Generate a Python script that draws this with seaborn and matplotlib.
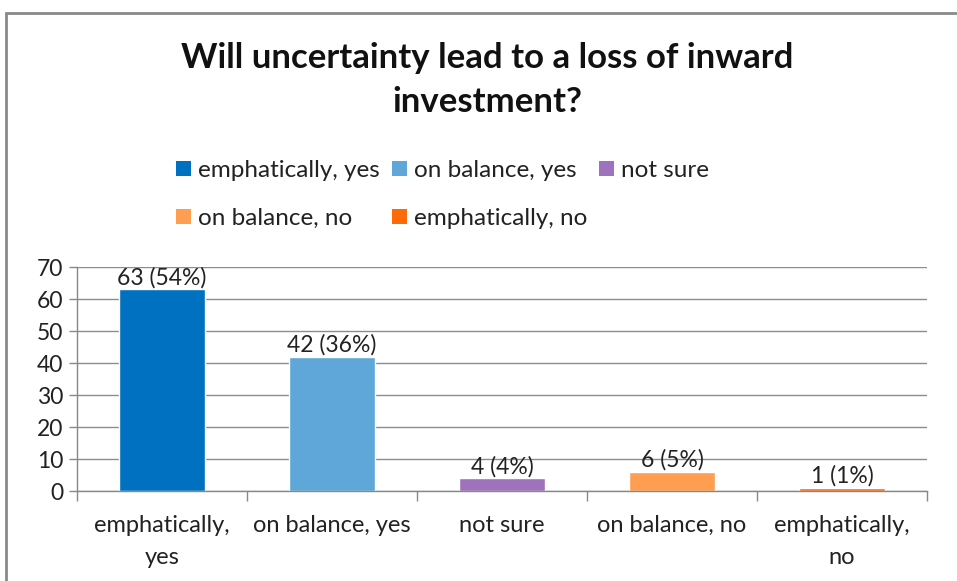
import matplotlib
matplotlib.use("Agg")
import matplotlib.pyplot as plt
import seaborn as sns
import pandas as pd
from matplotlib.patches import Patch, Rectangle

categories = ["emphatically, yes", "on balance, yes", "not sure", "on balance, no", "emphatically, no"]
tick_labels = ["emphatically,\nyes", "on balance, yes", "not sure", "on balance, no", "emphatically,\nno"]
values = [63, 42, 4, 6, 1]
percents = [54, 36, 4, 5, 1]
colors = ["#0070C0", "#5EA7D8", "#9E72BD", "#FF9E50", "#FF6A08"]

sns.set_theme(style="white")
plt.rcParams["font.family"] = ["Lato", "DejaVu Sans"]

df = pd.DataFrame({"cat": categories, "val": values})

fig = plt.figure(figsize=(9.57, 5.81), dpi=100)
ax = fig.add_axes([77/957, 1-491/581, (927-77)/957, (491-267)/581])

sns.barplot(data=df, x="cat", y="val", hue="cat", palette=colors, width=0.51,
            dodge=False, legend=False, ax=ax, order=categories, hue_order=categories,
            saturation=1)

ax.set_xlim(-0.5, 4.5)
ax.set_ylim(0, 70)
ax.set_yticks(range(0, 71, 10))
ax.tick_params(axis="y", labelsize=16.5, length=6, width=1, color="#888888", direction="out",
               pad=4, left=True, labelcolor="#222222")
ax.set_xticks(range(5))
ax.set_xticklabels(tick_labels, fontsize=17, linespacing=1.65, color="#222222")
ax.set_xticks([i - 0.5 for i in range(6)], minor=True)
ax.tick_params(axis="x", which="major", length=0, pad=17)
ax.tick_params(axis="x", which="minor", length=7, width=1, color="#888888", direction="out", bottom=True)
ax.set_xlabel("")
ax.set_ylabel("")
ax.yaxis.grid(True, color="#8C8C8C", linewidth=1)
ax.set_axisbelow(True)
for s in ["top", "right"]:
    ax.spines[s].set_visible(False)
for s in ["left", "bottom"]:
    ax.spines[s].set_color("#888888")
    ax.spines[s].set_linewidth(1)

for i, (v, p) in enumerate(zip(values, percents)):
    ax.text(i, v + 0.3, f"{v} ({p}%)", ha="center", va="bottom", fontsize=16.5, color="#222222")

fig.text(487/957, 1-80/581, "Will uncertainty lead to a loss of inward\ninvestment?",
         ha="center", va="center", fontsize=25, fontweight="bold", linespacing=1.45, color="#111111")

handles = [Patch(facecolor=c, edgecolor="none") for c in colors]
order = [0, 3, 1, 4, 2]
fig.legend([handles[i] for i in order], [categories[i] for i in order],
           ncol=3, loc="upper left", bbox_to_anchor=(164/957, 1-148/581),
           frameon=False, fontsize=17.5, handlelength=0.6, handleheight=0.6,
           handletextpad=0.3, columnspacing=0.5, labelspacing=1.1, borderpad=0,
           labelcolor="#222222")

fig.add_artist(Rectangle((6/957, -0.1), 1.2, 1-13/581+0.1, transform=fig.transFigure,
                         fill=False, edgecolor="#8A8A8A", linewidth=2))

fig.savefig("out.png", dpi=100)
